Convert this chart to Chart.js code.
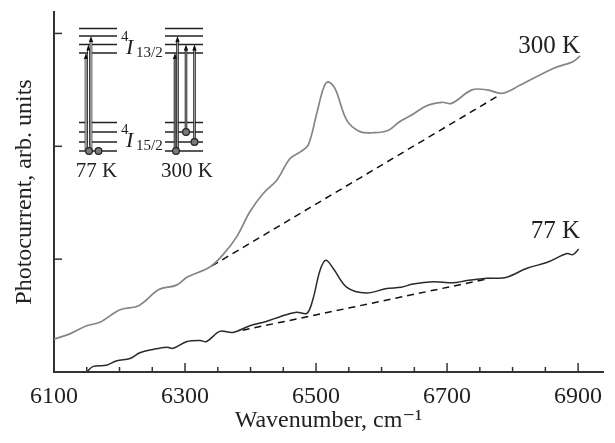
<!DOCTYPE html>
<html>
<head>
<meta charset="utf-8">
<script src="https://cdn.jsdelivr.net/npm/chart.js@4.4.1/dist/chart.umd.min.js"></script>
<style>
  html, body { margin: 0; padding: 0; background: #fff; }
  #wrap { width: 615px; height: 443px; }
</style>
</head>
<body>
<div id="wrap"><canvas id="grafico"></canvas></div>
<script>
// ===============================
// DATOS
// ===============================
const wn300 = [6100, 6125, 6150, 6170, 6200, 6230, 6260, 6287, 6303, 6338, 6358, 6379, 6399, 6419,
               6440, 6460, 6476, 6488, 6501, 6511, 6518, 6529, 6547, 6567, 6587, 6610, 6628, 6644,
               6669, 6692, 6707, 6738, 6761, 6784, 6811, 6862, 6892, 6903];
const pc300 = [0.29, 0.34, 0.41, 0.44, 0.55, 0.59, 0.73, 0.77, 0.84, 0.93, 1.04, 1.20, 1.42, 1.58,
               1.70, 1.89, 1.95, 2.01, 2.29, 2.51, 2.57, 2.51, 2.23, 2.13, 2.12, 2.14, 2.22, 2.27,
               2.36, 2.39, 2.38, 2.50, 2.50, 2.47, 2.54, 2.69, 2.75, 2.80];

const wn77 = [6150, 6160, 6180, 6196, 6216, 6231, 6251, 6272, 6282, 6303, 6323, 6333, 6353, 6373,
              6399, 6425, 6445, 6470, 6486, 6495, 6506, 6515, 6526, 6547, 6577, 6608, 6630, 6648,
              6679, 6709, 6730, 6761, 6791, 6822, 6852, 6883, 6892, 6901];
const pc77 = [0.00, 0.05, 0.06, 0.10, 0.12, 0.17, 0.20, 0.22, 0.21, 0.27, 0.28, 0.27, 0.36, 0.35,
              0.41, 0.45, 0.49, 0.53, 0.52, 0.64, 0.90, 0.99, 0.92, 0.75, 0.70, 0.74, 0.75, 0.78,
              0.80, 0.79, 0.81, 0.83, 0.84, 0.92, 0.97, 1.05, 1.04, 1.09];

// lineas base punteadas
const base300X = [6341, 6776];
const base300Y = [0.94, 2.44];
const base77X = [6388, 6766];
const base77Y = [0.37, 0.83];

const xTicksMajor = [6100, 6300, 6500, 6700, 6900];
const etiquetas = [
  { texto: "300 K", x: 6903, y: 2.83 },
  { texto: "77 K", x: 6903, y: 1.19 }
];

function puntos(xs, ys) {
  return xs.map((v, i) => ({ x: v, y: ys[i] }));
}

const SERIF = "'Liberation Serif', 'Times New Roman', 'DejaVu Serif', serif";

// ===============================
// PLUGINS
// ===============================
const ticksHaciaDentro = {
  id: "ticksHaciaDentro",
  afterDraw(chart) {
    const { ctx, scales: { x, y } } = chart;
    ctx.save();
    ctx.strokeStyle = "#333";
    ctx.lineWidth = 1.5;
    x.ticks.forEach(t => {
      if (t.value % 50 !== 0) return;
      const px = x.getPixelForValue(t.value);
      const len = xTicksMajor.includes(t.value) ? 9 : 5;
      ctx.beginPath(); ctx.moveTo(px, y.bottom); ctx.lineTo(px, y.bottom - len); ctx.stroke();
    });
    y.ticks.forEach(t => {
      if (t.value <= 0 || t.value % 1 !== 0) return;
      const py = y.getPixelForValue(t.value);
      ctx.beginPath(); ctx.moveTo(x.left, py); ctx.lineTo(x.left + 8, py); ctx.stroke();
    });
    ctx.restore();
  }
};

const textosCurvas = {
  id: "textosCurvas",
  afterDraw(chart) {
    const { ctx, scales: { x, y } } = chart;
    ctx.save();
    ctx.font = "25px " + SERIF;
    ctx.fillStyle = "#222";
    ctx.textAlign = "right";
    ctx.textBaseline = "alphabetic";
    etiquetas.forEach(e => ctx.fillText(e.texto, x.getPixelForValue(e.x), y.getPixelForValue(e.y)));
    ctx.restore();
  }
};

// diagrama de niveles (recuadro arriba a la izquierda)
function flecha(ctx, xp, y0, y1, relleno) {
  ctx.strokeStyle = "#222"; ctx.lineWidth = 2.6;
  ctx.beginPath(); ctx.moveTo(xp, y0); ctx.lineTo(xp, y1 + 5); ctx.stroke();
  ctx.strokeStyle = relleno; ctx.lineWidth = 1;
  ctx.beginPath(); ctx.moveTo(xp, y0); ctx.lineTo(xp, y1 + 5); ctx.stroke();
  ctx.fillStyle = "#111";
  ctx.beginPath(); ctx.moveTo(xp, y1); ctx.lineTo(xp - 2.2, y1 + 6); ctx.lineTo(xp + 2.2, y1 + 6);
  ctx.closePath(); ctx.fill();
}

function circulo(ctx, xp, yp) {
  ctx.fillStyle = "#7a7a7a"; ctx.strokeStyle = "#222"; ctx.lineWidth = 1.2;
  ctx.beginPath(); ctx.arc(xp, yp, 3.4, 0, Math.PI * 2); ctx.fill(); ctx.stroke();
}

function termino(ctx, ox, oy, base, sub) {
  ctx.textAlign = "left";
  ctx.fillStyle = "#222";
  ctx.font = "15px " + SERIF;
  ctx.fillText("4", ox + 67, oy + base - 13);
  ctx.font = "italic 22px " + SERIF;
  ctx.fillText("I", ox + 72, oy + base);
  ctx.font = "15px " + SERIF;
  ctx.fillText(sub, ox + 82, oy + base + 3);
}

const recuadro = {
  id: "recuadro",
  afterDraw(chart) {
    const { ctx, chartArea } = chart;
    const ox = chartArea.left, oy = chartArea.top;
    const arriba = [16.5, 24, 32.5, 41];
    const abajo = [110.5, 120, 130, 139];
    ctx.save();
    ctx.strokeStyle = "#222"; ctx.lineWidth = 1.4;
    [[25, 63], [111, 149]].forEach(([a, b]) => {
      arriba.concat(abajo).forEach(v => {
        ctx.beginPath(); ctx.moveTo(ox + a, oy + v); ctx.lineTo(ox + b, oy + v); ctx.stroke();
      });
    });
    // 77 K
    flecha(ctx, ox + 32, oy + 139, oy + arriba[3], "#fff");
    flecha(ctx, ox + 34.5, oy + 139, oy + arriba[2], "#fff");
    flecha(ctx, ox + 37, oy + 139, oy + arriba[1], "#fff");
    circulo(ctx, ox + 35, oy + 139);
    circulo(ctx, ox + 44.5, oy + 139);
    // 300 K
    flecha(ctx, ox + 121, oy + 139, oy + arriba[3], "#999");
    flecha(ctx, ox + 123.5, oy + 139, oy + arriba[1], "#999");
    flecha(ctx, ox + 132, oy + 120, oy + arriba[2], "#999");
    flecha(ctx, ox + 140.5, oy + 130, oy + arriba[2], "#999");
    circulo(ctx, ox + 122, oy + 139);
    circulo(ctx, ox + 132, oy + 120);
    circulo(ctx, ox + 140.5, oy + 130);
    // textos
    termino(ctx, ox, oy, 42, "13/2");
    termino(ctx, ox, oy, 135, "15/2");
    ctx.font = "21px " + SERIF;
    ctx.textAlign = "center";
    ctx.fillText("77 K", ox + 42.5, oy + 165);
    ctx.fillText("300 K", ox + 133, oy + 165);
    ctx.restore();
  }
};

// ===============================
// GRAFICO
// ===============================
const linea = (data, color, ancho, dash) => ({
  data, borderColor: color, borderWidth: ancho, borderDash: dash || [],
  pointRadius: 0, tension: dash ? 0 : 0.35, fill: false
});

new Chart(document.getElementById("grafico"), {
  type: "line",
  data: {
    datasets: [
      linea(puntos(wn300, pc300), "#858585", 1.7),
      linea(puntos(wn77, pc77), "#2a2a2a", 1.5),
      linea(puntos(base300X, base300Y), "#111", 1.5, [7, 5]),
      linea(puntos(base77X, base77Y), "#111", 1.5, [7, 5])
    ]
  },
  options: {
    responsive: true,
    maintainAspectRatio: false,
    animation: false,
    devicePixelRatio: 1,
    layout: { padding: { top: 12, right: 12, left: 6, bottom: 0 } },
    plugins: { legend: { display: false }, tooltip: { enabled: false } },
    scales: {
      x: {
        type: "linear",
        min: 6100,
        max: 6938,
        grid: { display: false, drawTicks: false },
        border: { display: true, color: "#333", width: 2 },
        ticks: {
          stepSize: 50,
          includeBounds: false,
          autoSkip: false,
          maxRotation: 0,
          padding: 10,
          color: "#222",
          font: { family: SERIF, size: 24 },
          callback: v => xTicksMajor.includes(v) ? String(v) : ""
        },
        title: {
          display: true,
          text: "Wavenumber, cm\u207B\u00B9",
          color: "#222",
          font: { family: SERIF, size: 24 },
          padding: { top: 0, bottom: 8 }
        },
        afterFit: s => { s.height = 71; }
      },
      y: {
        min: 0,
        max: 3.19,
        grid: { display: false, drawTicks: false },
        border: { display: true, color: "#333", width: 2 },
        ticks: { stepSize: 1, display: false, includeBounds: false },
        title: {
          display: true,
          text: "Photocurrent, arb. units",
          color: "#222",
          font: { family: SERIF, size: 24 },
          padding: { top: 4, bottom: 4 }
        },
        afterFit: s => { s.width = 48; }
      }
    }
  },
  plugins: [ticksHaciaDentro, textosCurvas, recuadro]
});
</script>
</body>
</html>
